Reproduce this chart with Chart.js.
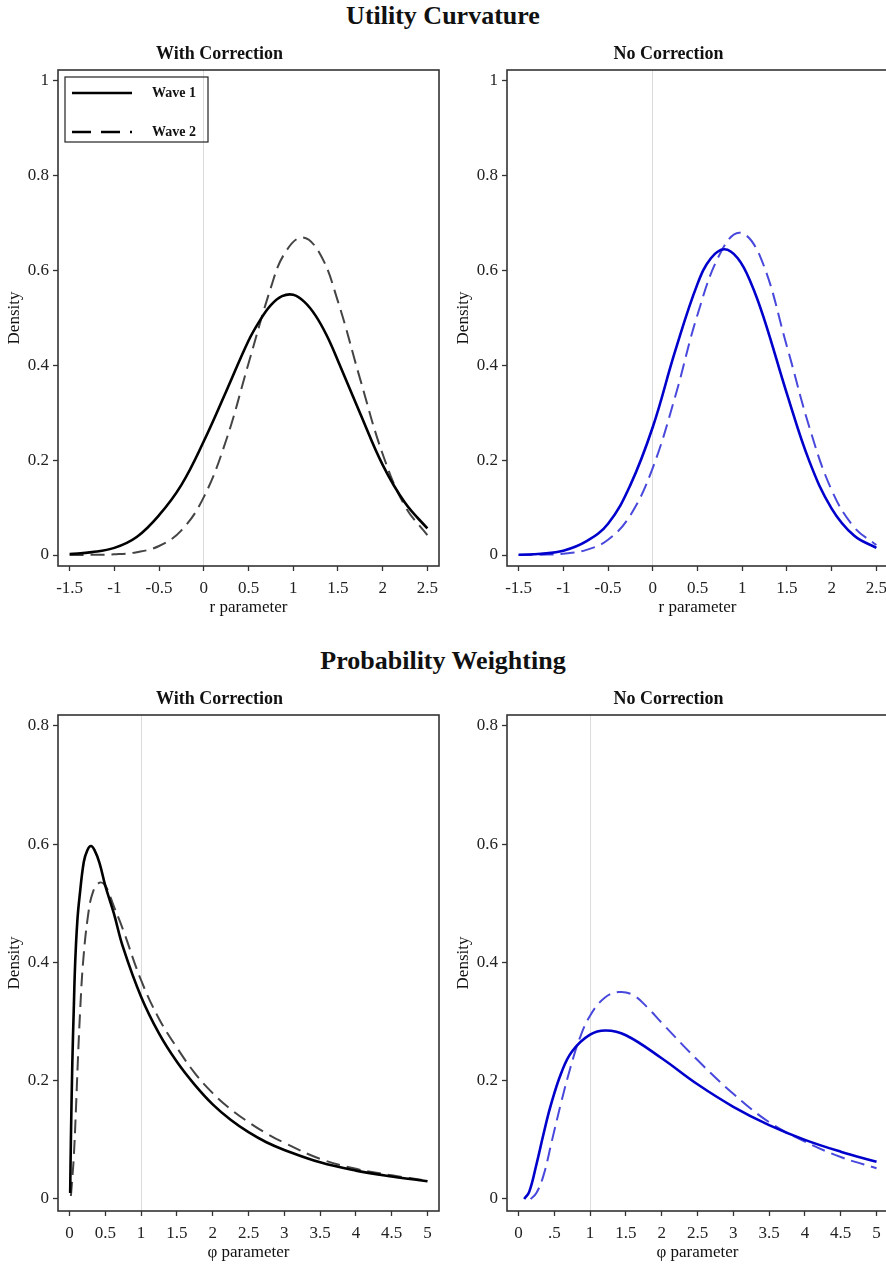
<!DOCTYPE html>
<html>
<head>
<meta charset="utf-8">
<script src="https://cdn.jsdelivr.net/npm/chart.js"></script>
<style>
  html, body { margin: 0; padding: 0; background: #fff; overflow: hidden; }
  #page { position: relative; width: 886px; height: 1266px; overflow: hidden; }
  .main-title { position: absolute; left: 0; width: 886px; text-align: center;
    font-family: 'Liberation Serif', serif; font-weight: bold; font-size: 26px;
    line-height: 30px; color: #111; }
  canvas { position: absolute; }
</style>
</head>
<body>
<div id="page">
  <div class="main-title" style="top:1px">Utility Curvature</div>
  <canvas id="utilCorr" width="450" height="584" style="left:0px;top:38px"></canvas>
  <canvas id="utilRaw" width="450" height="584" style="left:449px;top:38px"></canvas>
  <div class="main-title" style="top:646px">Probability Weighting</div>
  <canvas id="probCorr" width="450" height="584" style="left:0px;top:683px"></canvas>
  <canvas id="probRaw" width="450" height="584" style="left:449px;top:683px"></canvas>
</div>
<script>
// ---- data ----
const seriesLabels = ['Wave 1', 'Wave 2'];

const rTicks = [-1.5, -1, -0.5, 0, 0.5, 1, 1.5, 2, 2.5];
const rTickLabels = ['-1.5', '-1', '-0.5', '0', '0.5', '1', '1.5', '2', '2.5'];
const phiTicks = [0, 0.5, 1, 1.5, 2, 2.5, 3, 3.5, 4, 4.5, 5];
const phiTickLabelsCorr = ['0', '0.5', '1', '1.5', '2', '2.5', '3', '3.5', '4', '4.5', '5'];
const phiTickLabelsRaw = ['0', '.5', '1', '1.5', '2', '2.5', '3', '3.5', '4', '4.5', '5'];
const utilDensityTicks = [0, 0.2, 0.4, 0.6, 0.8, 1];
const utilDensityLabels = ['0', '0.2', '0.4', '0.6', '0.8', '1'];
const probDensityTicks = [0, 0.2, 0.4, 0.6, 0.8];
const probDensityLabels = ['0', '0.2', '0.4', '0.6', '0.8'];

// Utility curvature, with correction
const utilCorrW1X = [-1.5, -1.25, -1, -0.75, -0.5, -0.25, 0, 0.25, 0.5, 0.625, 0.75, 0.875, 1, 1.125, 1.25, 1.375, 1.5, 1.75, 2, 2.25, 2.5];
const utilCorrW1Y = [0.002, 0.006, 0.015, 0.038, 0.084, 0.148, 0.24, 0.345, 0.452, 0.494, 0.527, 0.546, 0.549, 0.534, 0.505, 0.463, 0.41, 0.298, 0.19, 0.11, 0.056];
const utilCorrW2X = [-1.5, -1.25, -1, -0.75, -0.5, -0.25, 0, 0.25, 0.5, 0.75, 0.9, 1.1, 1.3, 1.5, 1.75, 2, 2.25, 2.5];
const utilCorrW2Y = [0, 0.0005, 0.0015, 0.006, 0.019, 0.052, 0.122, 0.242, 0.404, 0.564, 0.635, 0.67, 0.635, 0.535, 0.37, 0.213, 0.103, 0.042];

// Utility curvature, no correction
const utilRawW1X = [-1.5, -1.25, -1, -0.75, -0.5, -0.25, 0, 0.25, 0.5, 0.65, 0.8, 0.95, 1.1, 1.25, 1.5, 1.75, 2, 2.25, 2.5];
const utilRawW1Y = [0.0006, 0.0026, 0.009, 0.028, 0.066, 0.148, 0.27, 0.43, 0.572, 0.626, 0.645, 0.626, 0.573, 0.495, 0.34, 0.198, 0.098, 0.041, 0.015];
const utilRawW2X = [-1.5, -1.25, -1, -0.75, -0.5, -0.25, 0, 0.25, 0.5, 0.75, 0.97, 1.2, 1.5, 1.75, 2, 2.25, 2.5];
const utilRawW2Y = [0.0001, 0.0006, 0.0027, 0.0103, 0.032, 0.084, 0.184, 0.334, 0.507, 0.635, 0.68, 0.63, 0.44, 0.27, 0.137, 0.059, 0.021];

// Probability weighting, with correction
const probCorrW1X = [0.01, 0.02, 0.04, 0.06, 0.08, 0.11, 0.14, 0.2, 0.25, 0.3, 0.35, 0.42, 0.5, 0.62, 0.75, 1, 1.25, 1.5, 1.75, 2, 2.25, 2.5, 2.75, 3, 3.5, 4, 4.5, 5];
const probCorrW1Y = [0.01, 0.1, 0.23, 0.32, 0.4, 0.47, 0.51, 0.57, 0.59, 0.597, 0.59, 0.568, 0.53, 0.483, 0.425, 0.342, 0.28, 0.232, 0.193, 0.16, 0.134, 0.113, 0.096, 0.083, 0.062, 0.048, 0.038, 0.03];
const probCorrW2X = [0.02, 0.03, 0.06, 0.09, 0.116, 0.15, 0.19, 0.26, 0.33, 0.42, 0.5, 0.62, 0.75, 1, 1.25, 1.5, 1.75, 2, 2.25, 2.5, 2.75, 3, 3.5, 4, 4.5, 5];
const probCorrW2Y = [0.005, 0.02, 0.07, 0.15, 0.23, 0.32, 0.4, 0.48, 0.52, 0.535, 0.53, 0.495, 0.455, 0.37, 0.305, 0.256, 0.213, 0.179, 0.152, 0.13, 0.111, 0.095, 0.068, 0.051, 0.04, 0.031];

// Probability weighting, no correction
const probRawW1X = [0.08, 0.15, 0.25, 0.35, 0.45, 0.6, 0.75, 1, 1.22, 1.5, 2, 2.5, 3, 3.5, 4, 4.5, 5];
const probRawW1Y = [0, 0.012, 0.058, 0.11, 0.158, 0.214, 0.25, 0.278, 0.285, 0.277, 0.238, 0.194, 0.156, 0.125, 0.1, 0.08, 0.063];
const probRawW2X = [0.17, 0.25, 0.35, 0.47, 0.6, 0.73, 0.85, 1, 1.2, 1.4, 1.6, 1.8, 2, 2.5, 3, 3.5, 4, 4.5, 5];
const probRawW2Y = [0, 0.01, 0.04, 0.1, 0.165, 0.224, 0.27, 0.31, 0.34, 0.35, 0.345, 0.324, 0.298, 0.235, 0.178, 0.13, 0.097, 0.071, 0.052];

// ---- drawing ----
const FONT = "'Liberation Serif', 'Times New Roman', serif";

function pts(xs, ys) {
    return xs.map((x, i) => ({ x: x, y: ys[i] }));
}

// box around the plot region, plus the optional legend inside it
const panelFrame = {
    id: 'panelFrame',
    afterDatasetsDraw(chart, args, opts) {
        const a = chart.chartArea;
        const ctx = chart.ctx;
        ctx.save();
        ctx.strokeStyle = '#333';
        ctx.lineWidth = 1.6;
        ctx.strokeRect(a.left, a.top, a.right - a.left, a.bottom - a.top);
        const lg = opts.legend;
        if (lg) {
            const bx = a.left + lg.dx, by = a.top + lg.dy;
            ctx.lineWidth = 1.2;
            ctx.strokeStyle = '#222';
            ctx.strokeRect(bx, by, lg.w, lg.h);
            chart.data.datasets.forEach((ds, i) => {
                const y = by + lg.rowY[i];
                ctx.beginPath();
                ctx.setLineDash(i === 0 ? [] : [19, 10, 19, 10, 2, 60]);
                ctx.strokeStyle = '#000';
                ctx.lineWidth = 2.4;
                ctx.moveTo(bx + lg.lineX0, y);
                ctx.lineTo(bx + lg.lineX1, y);
                ctx.stroke();
                ctx.setLineDash([]);
                ctx.fillStyle = '#111';
                ctx.font = 'bold 14px ' + FONT;
                ctx.textBaseline = 'middle';
                ctx.textAlign = 'left';
                ctx.fillText(ds.label, bx + lg.textX, y);
            });
        }
        ctx.restore();
    }
};

function makePanel(id, p) {
    const tickFont = { family: FONT, size: 17 };
    new Chart(document.getElementById(id), {
        type: 'line',
        data: {
            datasets: [{
                label: seriesLabels[0],
                data: pts(p.x1, p.y1),
                borderColor: p.c1,
                borderWidth: 2.6,
                pointRadius: 0,
                tension: 0.4,
                fill: false
            }, {
                label: seriesLabels[1],
                data: pts(p.x2, p.y2),
                borderColor: p.c2,
                borderWidth: 2,
                borderDash: [14, 7],
                pointRadius: 0,
                tension: 0.4,
                fill: false
            }]
        },
        options: {
            responsive: false,
            animation: false,
            layout: { padding: { left: 0, right: 11, top: 0, bottom: 0 } },
            plugins: {
                legend: { display: false },
                tooltip: { enabled: false },
                title: {
                    display: true,
                    text: p.title,
                    color: '#111',
                    font: { family: FONT, size: 18, weight: 'bold' },
                    padding: { top: 6, bottom: 4.4 }
                },
                panelFrame: {
                    legend: p.legend ? { dx: 7, dy: 7, w: 143, h: 65, rowY: [16, 55], lineX0: 7, lineX1: 67, textX: 87 } : null
                }
            },
            scales: {
                x: {
                    type: 'linear',
                    min: p.xMin,
                    max: p.xMax,
                    afterBuildTicks: s => { s.ticks = p.xTicks.map(v => ({ value: v })); },
                    afterFit: s => { s.height = 56; },
                    ticks: {
                        callback: (v, i) => p.xLabels[i],
                        font: tickFont,
                        color: '#222',
                        padding: 7,
                        maxRotation: 0,
                        autoSkip: false
                    },
                    grid: {
                        color: c => (c.tick && c.tick.value === p.refX) ? '#dcdcdc' : 'rgba(0,0,0,0)',
                        lineWidth: 1,
                        tickColor: '#333',
                        tickWidth: 1.3,
                        tickLength: 5
                    },
                    border: { display: false },
                    title: {
                        display: true,
                        text: p.xTitle,
                        color: '#111',
                        font: tickFont,
                        padding: { top: 0, bottom: 4 }
                    }
                },
                y: {
                    type: 'linear',
                    min: p.yMin,
                    max: p.yMax,
                    afterBuildTicks: s => { s.ticks = p.yTicks.map(v => ({ value: v })); },
                    afterFit: s => { s.width = 58; },
                    ticks: {
                        callback: (v, i) => p.yLabels[i],
                        font: tickFont,
                        color: '#222',
                        padding: 4
                    },
                    grid: {
                        color: 'rgba(0,0,0,0)',
                        tickColor: '#333',
                        tickWidth: 1.3,
                        tickLength: 5
                    },
                    border: { display: false },
                    title: {
                        display: true,
                        text: 'Density',
                        color: '#111',
                        font: tickFont,
                        padding: { top: 4, bottom: 0 }
                    }
                }
            }
        },
        plugins: [panelFrame]
    });
}

const utilAxes = {
    xMin: -1.63, xMax: 2.63, xTicks: rTicks, xLabels: rTickLabels, refX: 0, xTitle: 'r parameter',
    yMin: -0.0232, yMax: 1.0232, yTicks: utilDensityTicks, yLabels: utilDensityLabels
};
const probAxes = {
    xMin: -0.16, xMax: 5.16, xTicks: phiTicks, refX: 1, xTitle: 'φ parameter',
    yMin: -0.0203, yMax: 0.8186, yTicks: probDensityTicks, yLabels: probDensityLabels
};

makePanel('utilCorr', Object.assign({}, utilAxes, {
    title: 'With Correction', legend: true, c1: '#000000', c2: '#444444',
    x1: utilCorrW1X, y1: utilCorrW1Y, x2: utilCorrW2X, y2: utilCorrW2Y
}));
makePanel('utilRaw', Object.assign({}, utilAxes, {
    title: 'No Correction', legend: false, c1: '#0000cc', c2: '#4848dc',
    x1: utilRawW1X, y1: utilRawW1Y, x2: utilRawW2X, y2: utilRawW2Y
}));
makePanel('probCorr', Object.assign({}, probAxes, {
    title: 'With Correction', legend: false, c1: '#000000', c2: '#444444', xLabels: phiTickLabelsCorr,
    x1: probCorrW1X, y1: probCorrW1Y, x2: probCorrW2X, y2: probCorrW2Y
}));
makePanel('probRaw', Object.assign({}, probAxes, {
    title: 'No Correction', legend: false, c1: '#0000cc', c2: '#4848dc', xLabels: phiTickLabelsRaw,
    x1: probRawW1X, y1: probRawW1Y, x2: probRawW2X, y2: probRawW2Y
}));
</script>
</body>
</html>
